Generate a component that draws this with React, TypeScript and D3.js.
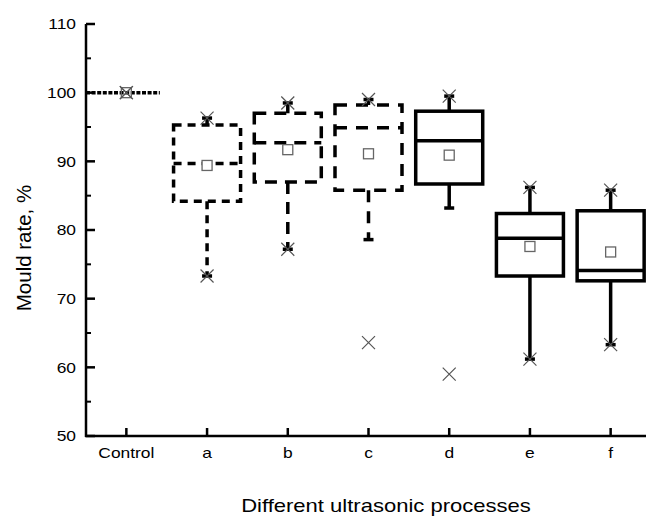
import React from "react";
import { scaleLinear, scaleBand, range } from "d3";

const categories = ["Control", "a", "b", "c", "d", "e", "f"];
const q1 = [100, 84.2, 87.0, 85.8, 86.7, 73.3, 72.6];
const medians = [100, 89.7, 92.7, 94.9, 93.0, 78.8, 74.1];
const q3 = [100, 95.3, 97.0, 98.2, 97.3, 82.4, 82.8];
const means = [100, 89.4, 91.7, 91.1, 90.9, 77.6, 76.8];
const whiskerLow = [100, 73.3, 77.2, 78.6, 83.2, 61.2, 63.3];
const whiskerHigh = [100, 96.3, 98.5, 99.0, 99.5, 86.2, 85.8];
const minMarks = [100, 73.3, 77.2, 63.6, 59.0, 61.2, 63.3];
const maxMarks = [100, 96.3, 98.5, 99.0, 99.5, 86.2, 85.8];
const majorTicks = [50, 60, 70, 80, 90, 100, 110];
const minorTicks = [55, 65, 75, 85, 95, 105];

// line style per box
const dashes = ["4,1.6", "8,6", "12,8", "12,9", null, null, null];

const width = 646;
const height = 517;
const font = "Arial, 'Liberation Sans', sans-serif";
const stretch = 1.16; // text in the picture is a bit wide

const App = () => {
  const y = scaleLinear().domain([50, 110]).range([436, 24]);
  const x = scaleBand().domain(categories).range([86, 651]).padding(0);
  const cx = (c: string) => (x(c) as number) + x.bandwidth() / 2;
  const half = 33.5;
  const axisY = y(50);

  return (
    <svg
      width={width}
      height={height}
      style={{ position: "absolute", left: 0, top: 0, background: "#fff" }}
      fontFamily={font}
    >
      {/* boxes */}
      {categories.map((c, i) => {
        const mx = cx(c);
        const dash = dashes[i] || undefined;
        const left = i === 0 ? 86 : mx - half;
        const right = mx + half;
        return (
          <g key={c} fill="none" stroke="#000" strokeWidth={3.5} strokeDasharray={dash}>
            {i > 0 && (
              <>
                <line x1={mx} x2={mx} y1={y(q3[i])} y2={y(whiskerHigh[i])} />
                <line x1={mx} x2={mx} y1={y(q1[i])} y2={y(whiskerLow[i])} />
                <rect
                  x={left}
                  y={y(q3[i])}
                  width={right - left}
                  height={y(q1[i]) - y(q3[i])}
                />
                <line x1={mx - 5} x2={mx + 5} y1={y(whiskerHigh[i])} y2={y(whiskerHigh[i])} strokeDasharray="none" />
                <line x1={mx - 5} x2={mx + 5} y1={y(whiskerLow[i])} y2={y(whiskerLow[i])} strokeDasharray="none" />
              </>
            )}
            <line x1={left} x2={right} y1={y(medians[i])} y2={y(medians[i])} />
          </g>
        );
      })}

      {/* mean squares */}
      {categories.map((c, i) => (
        <rect
          key={"m" + c}
          x={cx(c) - 5}
          y={y(means[i]) - 5}
          width={10}
          height={10}
          fill="#fff"
          fillOpacity={i === 0 ? 0 : 1}
          stroke="#666"
          strokeWidth={1.3}
        />
      ))}

      {/* min / max crosses */}
      {categories.map((c, i) =>
        [minMarks[i], maxMarks[i]].map((v, k) => {
          const px = cx(c);
          const py = y(v);
          const s = 6.5;
          return (
            <path
              key={c + k}
              d={`M${px - s},${py - s}L${px + s},${py + s}M${px - s},${py + s}L${px + s},${py - s}`}
              stroke="#555"
              strokeWidth={1.2}
              fill="none"
            />
          );
        })
      )}

      {/* y axis */}
      <line x1={86} x2={86} y1={y(110)} y2={axisY + 1} stroke="#000" strokeWidth={2.5} />
      {majorTicks.map((t) => (
        <g key={t}>
          <line x1={86} x2={95} y1={y(t)} y2={y(t)} stroke="#000" strokeWidth={2.5} />
          <text
            transform={`translate(76,${y(t)}) scale(${stretch},1)`}
            dy="0.35em"
            textAnchor="end"
            fontSize={15}
          >
            {t}
          </text>
        </g>
      ))}
      {minorTicks.map((t) => (
        <line key={t} x1={86} x2={91} y1={y(t)} y2={y(t)} stroke="#000" strokeWidth={2} />
      ))}

      {/* x axis */}
      <line x1={85} x2={651} y1={axisY} y2={axisY} stroke="#000" strokeWidth={2.5} />
      {range(categories.length).map((i) => (
        <g key={i}>
          <line
            x1={cx(categories[i])}
            x2={cx(categories[i])}
            y1={axisY}
            y2={axisY - 8}
            stroke="#000"
            strokeWidth={2.5}
          />
          <text
            transform={`translate(${cx(categories[i])},458) scale(${stretch},1)`}
            textAnchor="middle"
            fontSize={15}
          >
            {categories[i]}
          </text>
        </g>
      ))}

      {/* titles */}
      <text
        transform={`translate(386,512) scale(${stretch},1)`}
        textAnchor="middle"
        fontSize={19}
      >
        Different ultrasonic processes
      </text>
      <text
        transform={`translate(24,248) rotate(-90)`}
        dy="0.35em"
        textAnchor="middle"
        fontSize={20.5}
      >
        Mould rate, %
      </text>
    </svg>
  );
};

export default App;
